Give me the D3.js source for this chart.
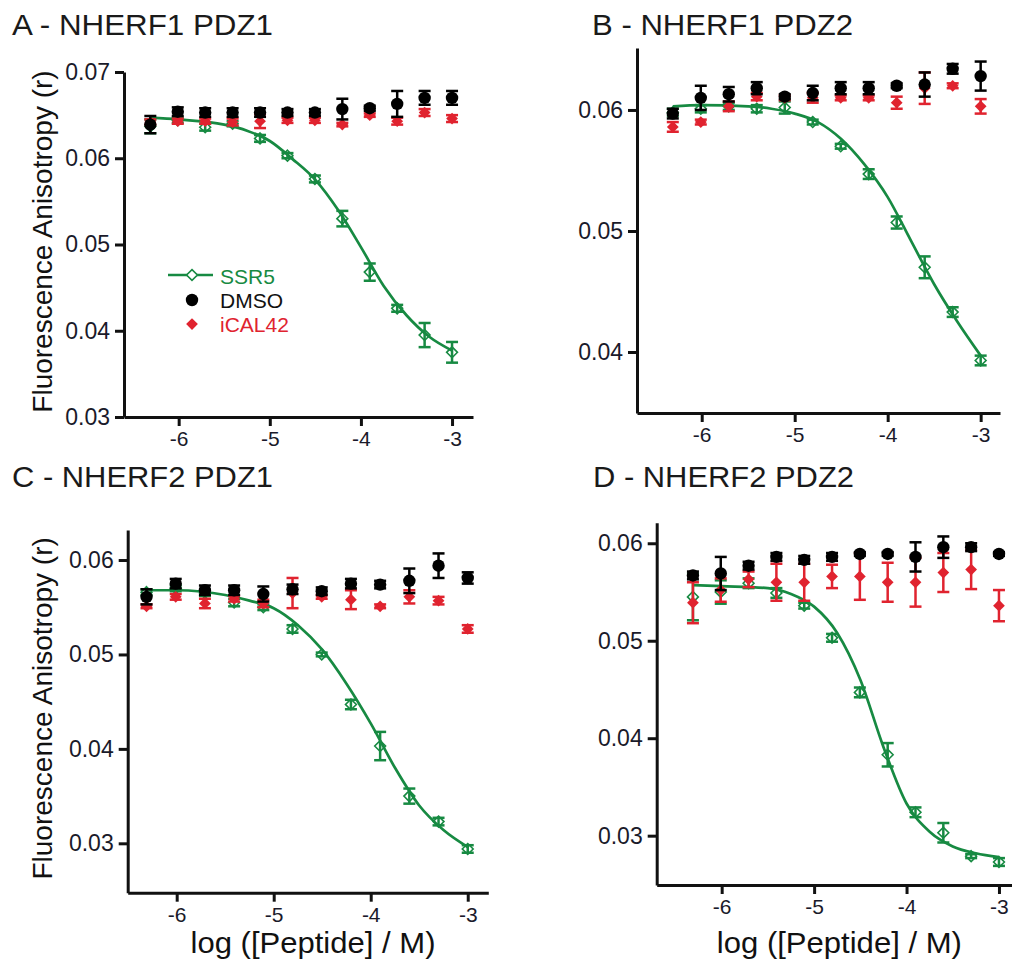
<!DOCTYPE html>
<html><head><meta charset="utf-8">
<script src="https://cdn.jsdelivr.net/npm/d3@7"></script>
<style>
body{margin:0;background:#fff}
svg text{font-family:"Liberation Sans",Arial,Helvetica,sans-serif}
</style>
</head><body>
<svg id="chart" width="1012" height="960"></svg>
<script>
// ---- data ----
const logConc = [-6.311,-6.010,-5.709,-5.408,-5.107,-4.806,-4.505,-4.204,-3.903,-3.602,-3.301,-3.000];
const fitX    = [-6.311,-6.0,-5.5,-5.25,-5.0,-4.75,-4.5,-4.25,-4.0,-3.75,-3.5,-3.25,-3.0];
const seriesNames = ["SSR5","DMSO","iCAL42"];
const panelTitles = ["A - NHERF1 PDZ1","B - NHERF1 PDZ2","C - NHERF2 PDZ1","D - NHERF2 PDZ2"];
const xTickValues = [-6,-5,-4,-3];
const yTicksA = [0.03,0.04,0.05,0.06,0.07];
const yTicksB = [0.04,0.05,0.06];
const yTicksC = [0.03,0.04,0.05,0.06];
const yTicksD = [0.03,0.04,0.05,0.06];
const yAxisTitle = "Fluorescence Anisotropy (r)";
const xAxisTitle = "log ([Peptide] / M)";

// Panel A - NHERF1 PDZ1
const ssr5A    = [0.0637,0.0644,0.0636,0.0640,0.0623,0.0603,0.0576,0.0530,0.0468,0.0426,0.0395,0.0375];
const ssr5AErr = [0.0008,0.0003,0.0004,0.0003,0.0004,0.0003,0.0004,0.0009,0.0010,0.0004,0.0014,0.0012];
const dmsoA    = [0.0639,0.0654,0.0653,0.0653,0.0653,0.0653,0.0653,0.0657,0.0658,0.0663,0.0670,0.0670];
const dmsoAErr = [0.0010,0.0005,0.0005,0.0005,0.0005,0.0004,0.0004,0.0012,0.0003,0.0015,0.0008,0.0008];
const icalA    = [0.0642,0.0643,0.0643,0.0642,0.0643,0.0644,0.0644,0.0639,0.0650,0.0643,0.0653,0.0646];
const icalAErr = [0.0003,0.0003,0.0003,0.0004,0.0008,0.0003,0.0003,0.0002,0.0002,0.0004,0.0004,0.0004];
const fitA     = [0.0647,0.0645,0.0639,0.0632,0.0620,0.0599,0.0575,0.0540,0.0497,0.0452,0.0418,0.0393,0.0377];

// Panel B - NHERF1 PDZ2
const ssr5B    = [0.0598,0.0601,0.0603,0.0601,0.0602,0.0590,0.0570,0.0547,0.0507,0.0470,0.0433,0.0393];
const ssr5BErr = [0.0003,0.0003,0.0003,0.0003,0.0005,0.0002,0.0002,0.0004,0.0005,0.0009,0.0004,0.0004];
const dmsoB    = [0.0597,0.0610,0.0613,0.0618,0.0611,0.0614,0.0618,0.0618,0.0620,0.0621,0.0634,0.0628];
const dmsoBErr = [0.0004,0.0010,0.0006,0.0005,0.0002,0.0006,0.0005,0.0005,0.0002,0.0010,0.0004,0.0012];
const icalB    = [0.0586,0.0590,0.0603,0.0611,0.0610,0.0610,0.0610,0.0610,0.0606,0.0618,0.0620,0.0603];
const icalBErr = [0.0004,0.0002,0.0004,0.0003,0.0002,0.0004,0.0002,0.0002,0.0005,0.0013,0.0002,0.0006];
const fitB     = [0.0603,0.0604,0.0603,0.0601,0.0597,0.0590,0.0576,0.0555,0.0528,0.0492,0.0456,0.0425,0.0397];

// Panel C - NHERF2 PDZ1
const ssr5C    = [0.0566,0.0570,0.0565,0.0555,0.0550,0.0527,0.0500,0.0447,0.0403,0.0350,0.0323,0.0294];
const ssr5CErr = [0.0003,0.0003,0.0003,0.0004,0.0003,0.0004,0.0002,0.0005,0.0015,0.0008,0.0004,0.0004];
const dmsoC    = [0.0561,0.0575,0.0568,0.0568,0.0564,0.0569,0.0567,0.0575,0.0574,0.0578,0.0594,0.0581];
const dmsoCErr = [0.0008,0.0005,0.0005,0.0005,0.0008,0.0005,0.0004,0.0005,0.0004,0.0013,0.0013,0.0006];
const icalC    = [0.0551,0.0561,0.0554,0.0559,0.0554,0.0565,0.0561,0.0558,0.0551,0.0561,0.0557,0.0527];
const icalCErr = [0.0002,0.0003,0.0005,0.0003,0.0004,0.0016,0.0002,0.0010,0.0002,0.0007,0.0004,0.0004];
const fitC     = [0.0568,0.0568,0.0563,0.0557,0.0549,0.0531,0.0505,0.0469,0.0427,0.0380,0.0340,0.0314,0.0296];

// Panel D - NHERF2 PDZ2
const ssr5D    = [0.0545,0.0550,0.0559,0.0549,0.0536,0.0503,0.0447,0.0383,0.0324,0.0303,0.0279,0.0273];
const ssr5DErr = [0.0024,0.0012,0.0005,0.0005,0.0003,0.0004,0.0005,0.0012,0.0005,0.0010,0.0002,0.0004];
const dmsoD    = [0.0567,0.0569,0.0577,0.0586,0.0583,0.0586,0.0589,0.0589,0.0586,0.0596,0.0596,0.0589];
const dmsoDErr = [0.0004,0.0017,0.0004,0.0004,0.0004,0.0004,0.0002,0.0002,0.0015,0.0011,0.0004,0.0002];
const icalD    = [0.0539,0.0552,0.0563,0.0560,0.0560,0.0566,0.0566,0.0560,0.0560,0.0570,0.0573,0.0536];
const icalDErr = [0.0021,0.0012,0.0008,0.0019,0.0019,0.0012,0.0024,0.0020,0.0025,0.0020,0.0020,0.0016];
const fitD     = [0.0557,0.0556,0.0554,0.0548,0.0535,0.0508,0.0460,0.0391,0.0333,0.0304,0.0289,0.0282,0.0278];

// ---- layout / style ----
const GREEN = "#178a42", RED = "#e0232f", BLACK = "#000";
const panels = [
  {title:panelTitles[0], tx:12,  ty:35,  L:124,   R:473,  T:72,    B:417,   xd:[-6.6,-2.77],  yd:[0.03,0.07],     yt:yTicksA, ylab:true,  xlab:false, legend:true,
   s:ssr5A, se:ssr5AErr, d:dmsoA, de:dmsoAErr, i:icalA, ie:icalAErr, f:fitA},
  {title:panelTitles[1], tx:592, ty:35,  L:637,   R:1000, T:48,    B:413,   xd:[-6.696,-2.792], yd:[0.03496,0.06512], yt:yTicksB, ylab:false, xlab:false, legend:false,
   s:ssr5B, se:ssr5BErr, d:dmsoB, de:dmsoBErr, i:icalB, ie:icalBErr, f:fitB},
  {title:panelTitles[2], tx:12,  ty:487, L:127.7, R:488.3, T:530,  B:892.7, xd:[-6.505,-2.788], yd:[0.02477,0.06318], yt:yTicksC, ylab:true,  xlab:true, legend:false,
   s:ssr5C, se:ssr5CErr, d:dmsoC, de:dmsoCErr, i:icalC, ie:icalCErr, f:fitC},
  {title:panelTitles[3], tx:593, ty:487, L:656.7, R:1012, T:522.7,  B:885,   xd:[-6.703,-2.859], yd:[0.02494,0.06211], yt:yTicksD, ylab:false, xlab:true, legend:false,
   s:ssr5D, se:ssr5DErr, d:dmsoD, de:dmsoDErr, i:icalD, ie:icalDErr, f:fitD}
];

const svg = d3.select("#chart");
const openDiamond = d3.symbol().type(d3.symbolDiamond2).size(75);
const solidDiamond = d3.symbol().type(d3.symbolDiamond2).size(88);

function errorBars(g, x, y, vals, errs, color) {
  const eg = g.append("g").attr("stroke", color).attr("stroke-width", 2.5).attr("fill","none");
  vals.forEach((v, k) => {
    const cx = x(logConc[k]), yTop = y(v + errs[k]), yBot = y(v - errs[k]);
    eg.append("line").attr("x1", cx).attr("x2", cx).attr("y1", yTop).attr("y2", yBot);
    eg.append("line").attr("x1", cx - 6).attr("x2", cx + 6).attr("y1", yTop).attr("y2", yTop);
    eg.append("line").attr("x1", cx - 6).attr("x2", cx + 6).attr("y1", yBot).attr("y2", yBot);
  });
}

panels.forEach(p => {
  const x = d3.scaleLinear().domain(p.xd).range([p.L, p.R]);
  const y = d3.scaleLinear().domain(p.yd).range([p.B, p.T]);
  const g = svg.append("g");

  g.append("text").attr("x", p.tx).attr("y", p.ty).attr("font-size", 30).attr("fill", "#1a1a1a")
    .attr("textLength", 261).attr("lengthAdjust", "spacingAndGlyphs").text(p.title);

  // axes
  const ax = g.append("g").attr("transform", `translate(0,${p.B})`)
    .call(d3.axisBottom(x).tickValues(xTickValues).tickSize(9).tickSizeOuter(0).tickPadding(5));
  const ay = g.append("g").attr("transform", `translate(${p.L},0)`)
    .call(d3.axisLeft(y).tickValues(p.yt).tickSize(9).tickSizeOuter(0).tickPadding(5).tickFormat(d3.format(".2f")));
  [ax, ay].forEach(a => {
    a.select(".domain").attr("stroke", "#111").attr("stroke-width", 3);
    a.selectAll(".tick line").attr("stroke", "#111").attr("stroke-width", 3);
    a.selectAll(".tick text").attr("fill", "#1a1a2a")
      .attr("font-family", '"Liberation Sans",Arial,sans-serif');
  });
  ay.selectAll(".tick text").attr("font-size", 23);
  ax.selectAll(".tick text").attr("font-size", 21).text(d => String(d).replace("−","-"));

  if (p.ylab) {
    g.append("text").attr("transform", `translate(52,${(p.T + p.B) / 2 - 3}) rotate(-90)`)
      .attr("text-anchor", "middle").attr("font-size", 28).attr("fill", "#111").text(yAxisTitle);
  }
  if (p.xlab) {
    g.append("text").attr("x", (p.L + p.R) / 2 + 5).attr("y", 953)
      .attr("text-anchor", "middle").attr("font-size", 29).attr("fill", "#111")
      .attr("textLength", 245).attr("lengthAdjust", "spacingAndGlyphs").text(xAxisTitle);
  }

  // SSR5: error bars, fit curve, open diamonds
  errorBars(g, x, y, p.s, p.se, GREEN);
  const line = d3.line().x((d, k) => x(fitX[k])).y(d => y(d)).curve(d3.curveMonotoneX);
  g.append("path").datum(p.f).attr("d", line).attr("fill", "none").attr("stroke", GREEN).attr("stroke-width", 2.7);
  g.append("g").selectAll("path").data(p.s).join("path")
    .attr("transform", (d, k) => `translate(${x(logConc[k])},${y(d)})`)
    .attr("d", openDiamond).attr("fill", "none").attr("stroke", GREEN).attr("stroke-width", 1.6);

  // iCAL42
  errorBars(g, x, y, p.i, p.ie, RED);
  g.append("g").selectAll("path").data(p.i).join("path")
    .attr("transform", (d, k) => `translate(${x(logConc[k])},${y(d)})`)
    .attr("d", solidDiamond).attr("fill", RED);

  // DMSO
  errorBars(g, x, y, p.d, p.de, BLACK);
  g.append("g").selectAll("circle").data(p.d).join("circle")
    .attr("cx", (d, k) => x(logConc[k])).attr("cy", d => y(d)).attr("r", 6.2).attr("fill", BLACK);

  if (p.legend) {
    const lg = g.append("g");
    const lx = 168, ly = 275;
    lg.append("line").attr("x1", lx).attr("x2", lx + 45).attr("y1", ly).attr("y2", ly).attr("stroke", GREEN).attr("stroke-width", 2.7);
    lg.append("path").attr("transform", `translate(${lx + 24},${ly})`).attr("d", openDiamond())
      .attr("fill", "#fff").attr("stroke", GREEN).attr("stroke-width", 1.6);
    lg.append("circle").attr("cx", lx + 24).attr("cy", ly + 25).attr("r", 6.2).attr("fill", BLACK);
    lg.append("path").attr("transform", `translate(${lx + 24},${ly + 49})`).attr("d", solidDiamond()).attr("fill", RED);
    const colors = [GREEN, "#111", RED];
    seriesNames.forEach((n, k) => {
      lg.append("text").attr("x", 220).attr("y", ly + 9 + k * 24).attr("font-size", 21).attr("fill", colors[k]).text(n);
    });
  }
});
</script>
</body></html>
